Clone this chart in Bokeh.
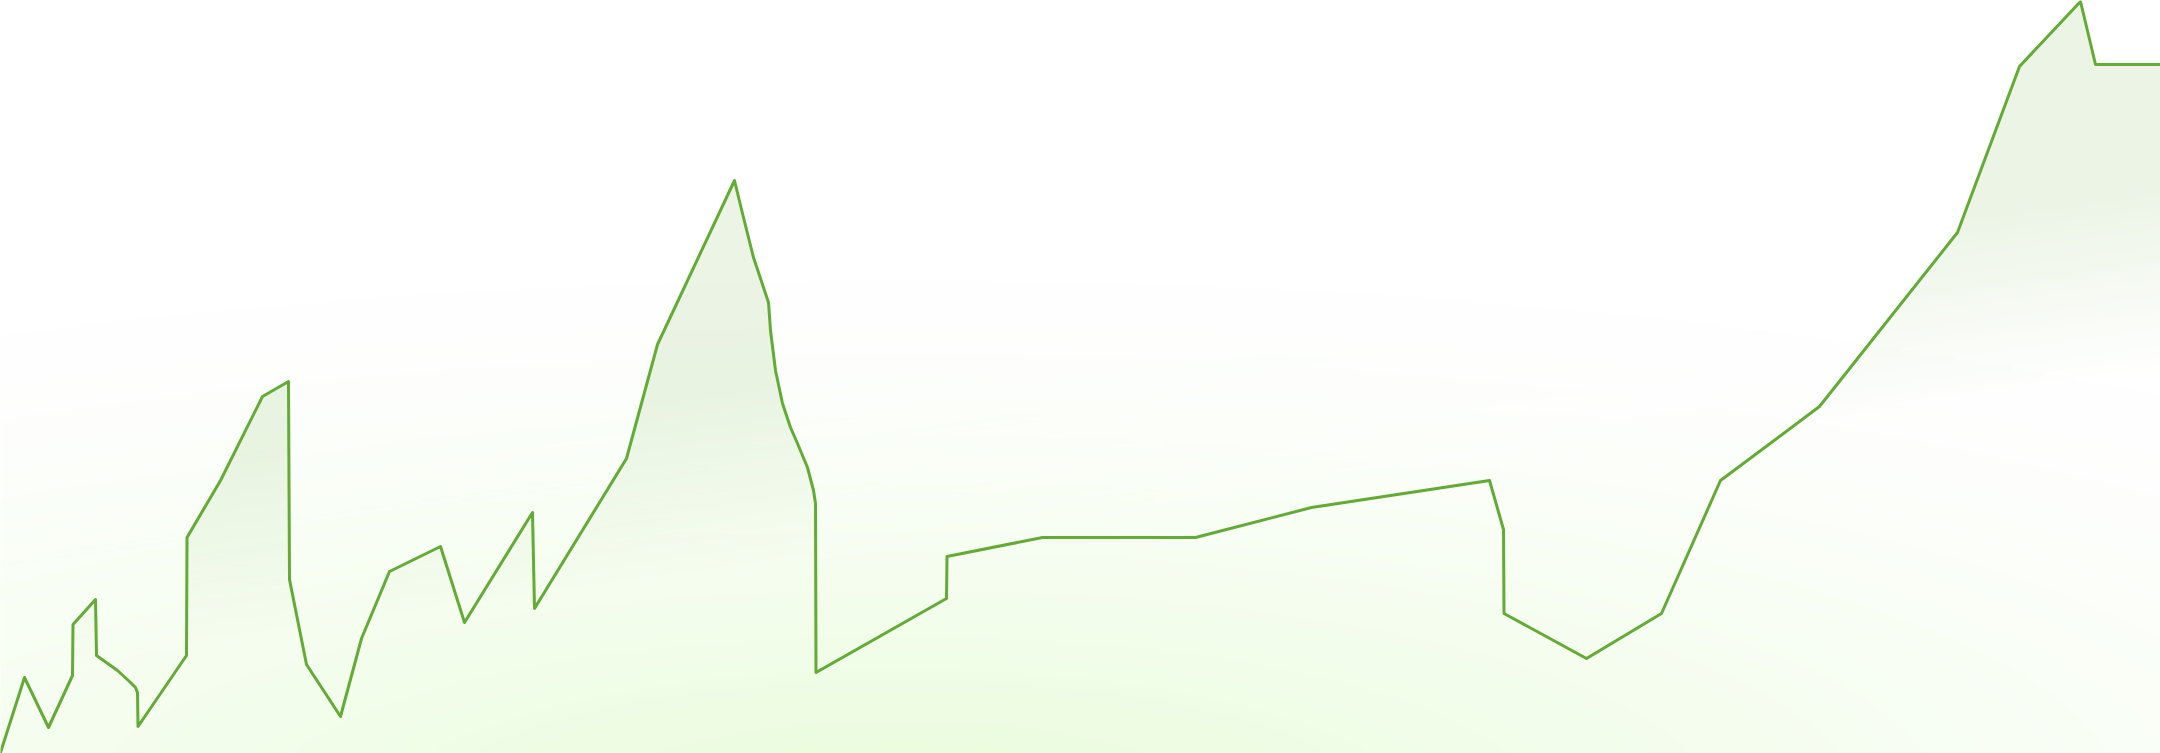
import numpy as np
from bokeh.plotting import figure
from bokeh.models import Range1d
from bokeh.embed import file_html
from bokeh.resources import INLINE

# ---- data (time position, value) ----
t = [0, 24, 48, 72, 72.5, 95, 96, 117, 130, 135, 137, 137.5,
     186, 186.5, 220, 262, 288, 289, 306, 340, 361, 389,
     440, 464, 532, 534, 626, 657, 734, 742, 753, 768,
     770, 775, 782, 790, 797, 807, 813, 815, 815.5, 946,
     946.5, 1042, 1195, 1311, 1489, 1503, 1503.5, 1586, 1661, 1720,
     1819, 1957, 2019, 2080, 2095, 2160]
values = [1, 76, 26, 78, 129, 154, 98, 83, 71, 66, 61, 27,
          98, 216, 273, 357, 372, 174, 89, 37, 115, 182,
          207, 131, 241, 145, 295, 409, 573, 540, 496, 451,
          423, 383, 350, 326, 310, 286, 263, 250, 81, 155,
          197, 216, 216, 246, 273, 224, 140, 95, 140, 273,
          347, 521, 687, 752, 689, 689]

X_MAX, Y_MAX = 2160, 753
LINE_COLOR = "#62ab35"

p = figure(width=2160, height=753, x_range=Range1d(0, X_MAX), y_range=Range1d(0, Y_MAX),
           output_backend="svg", toolbar_location=None, min_border=0,
           x_axis_type=None, y_axis_type=None,
           background_fill_color="white", border_fill_color="white",
           outline_line_color=None)
p.grid.visible = False

# ---- background gradient images (decorative) ----
S = 3
nx, ny = X_MAX // S, Y_MAX // S + 1
xs = (np.arange(nx) + 0.5) * S
ys = (np.arange(ny) + 0.5) * S          # data y, from bottom
XX, YY = np.meshgrid(xs, ys)
YPX = Y_MAX - YY                          # screen y from top

d = np.sqrt(((XX - 900) / 2000.0) ** 2 + ((YPX - 800) / 520.0) ** 2)
g = np.clip(1 - d, 0, 1) ** 1.5
bg_green = np.array([232, 252, 218], dtype=float)
R = 255 * (1 - g) + bg_green[0] * g
G = 255 * (1 - g) + bg_green[1] * g
B = 255 * (1 - g) + bg_green[2] * g

def pack(r, gg, b, a):
    img = np.empty(r.shape, dtype=np.uint32)
    view = img.view(dtype=np.uint8).reshape(r.shape + (4,))
    view[..., 0] = np.clip(r, 0, 255).astype(np.uint8)
    view[..., 1] = np.clip(gg, 0, 255).astype(np.uint8)
    view[..., 2] = np.clip(b, 0, 255).astype(np.uint8)
    view[..., 3] = np.clip(a, 0, 255).astype(np.uint8)
    return img

bg_img = pack(R, G, B, np.full(R.shape, 255.0))
y_start = 480 - 0.14 * XX
beta = np.clip((YPX - y_start) / 200.0, 0, 1)
fade_img = pack(R, G, B, beta * 255)

p.image_rgba(image=[bg_img], x=0, y=0, dw=X_MAX, dh=ny * S)

# area under the line
p.varea(x=t, y1=0, y2=values, fill_color=LINE_COLOR, fill_alpha=0.13)

# fade of the area toward the lower part
p.image_rgba(image=[fade_img], x=0, y=0, dw=X_MAX, dh=ny * S)

# the line
p.line(x=t, y=values, line_color=LINE_COLOR, line_width=3,
       line_join="round", line_cap="round")

html = file_html(p, INLINE)
html = html.replace("</head>", "<style>html,body{margin:0;padding:0;overflow:hidden;}</style></head>", 1)
open("out.html", "w").write(html)
